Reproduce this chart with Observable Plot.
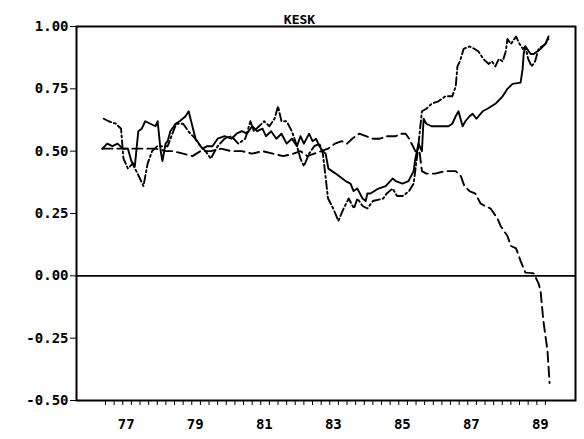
<!DOCTYPE html>
<html>
<head>
<meta charset="utf-8">
<script src="https://cdn.jsdelivr.net/npm/d3@7"></script>
<script src="https://cdn.jsdelivr.net/npm/@observablehq/plot@0.6"></script>
<style>
  html, body { margin: 0; padding: 0; background: #fff; }
  svg text { font-family: "DejaVu Sans Mono", monospace; font-weight: bold; }
</style>
</head>
<body>
<div id="chart"></div>
<script>
const title = "KESK";
const yTicks = [-0.5, -0.25, 0, 0.25, 0.5, 0.75, 1.0];
const xLabelYears = [1977, 1979, 1981, 1983, 1985, 1987, 1989];
const quarterTicks = [1976.45,1976.7,1976.95,1977.2,1977.45,1977.7,1977.95,1978.2,1978.45,1978.7,1978.95,1979.2,1979.45,1979.7,1979.95,1980.2,1980.45,1980.7,1980.95,1981.2,1981.45,1981.7,1981.95,1982.2,1982.45,1982.7,1982.95,1983.2,1983.45,1983.7,1983.95,1984.2,1984.45,1984.7,1984.95,1985.2,1985.45,1985.7,1985.95,1986.2,1986.45,1986.7,1986.95,1987.2,1987.45,1987.7,1987.95,1988.2,1988.45,1988.7,1988.95,1989.2];

// Solid series
const solidT = [1976.36,1976.5,1976.65,1976.8,1976.95,1977.1,1977.2,1977.3,1977.4,1977.5,1977.6,1977.75,1977.9,1977.96,1978.05,1978.1,1978.19,1978.25,1978.33,1978.48,1978.6,1978.77,1978.86,1978.95,1979.06,1979.26,1979.4,1979.55,1979.7,1979.9,1980.1,1980.25,1980.4,1980.55,1980.7,1980.85,1981.0,1981.1,1981.25,1981.4,1981.55,1981.7,1981.85,1982.0,1982.1,1982.2,1982.35,1982.45,1982.55,1982.65,1982.75,1982.83,1982.91,1983.12,1983.41,1983.55,1983.64,1983.75,1983.9,1983.99,1984.04,1984.13,1984.36,1984.57,1984.77,1984.86,1985.06,1985.23,1985.38,1985.43,1985.52,1985.62,1985.67,1985.75,1985.9,1986.1,1986.39,1986.5,1986.6,1986.68,1986.8,1986.88,1987.0,1987.09,1987.2,1987.38,1987.52,1987.75,1987.96,1988.1,1988.25,1988.48,1988.54,1988.57,1988.62,1988.77,1988.86,1989.06,1989.2,1989.29];
const solidV = [0.51,0.53,0.52,0.53,0.51,0.51,0.46,0.44,0.58,0.59,0.62,0.61,0.60,0.62,0.50,0.46,0.53,0.54,0.58,0.61,0.62,0.64,0.66,0.61,0.55,0.51,0.52,0.52,0.55,0.56,0.55,0.57,0.58,0.57,0.60,0.58,0.59,0.56,0.58,0.55,0.57,0.53,0.55,0.52,0.56,0.53,0.57,0.54,0.55,0.52,0.50,0.49,0.43,0.41,0.38,0.37,0.34,0.35,0.31,0.30,0.33,0.33,0.35,0.36,0.39,0.38,0.37,0.38,0.42,0.47,0.53,0.50,0.63,0.61,0.60,0.60,0.60,0.61,0.64,0.66,0.60,0.62,0.64,0.65,0.63,0.66,0.67,0.69,0.72,0.75,0.77,0.775,0.83,0.89,0.92,0.89,0.89,0.91,0.93,0.96];

// Long-dash series
const dashT = [1976.36,1976.7,1977.0,1977.3,1977.6,1977.9,1978.2,1978.4,1978.7,1978.97,1979.2,1979.5,1979.8,1980.1,1980.4,1980.7,1981.0,1981.3,1981.6,1981.9,1982.1,1982.3,1982.5,1982.7,1982.9,1983.1,1983.3,1983.45,1983.6,1983.8,1984.0,1984.2,1984.4,1984.6,1984.86,1985.0,1985.15,1985.25,1985.43,1985.55,1985.62,1985.75,1986.0,1986.3,1986.6,1986.75,1986.85,1987.0,1987.17,1987.32,1987.45,1987.61,1987.81,1987.9,1988.1,1988.2,1988.35,1988.48,1988.62,1988.75,1988.86,1989.0,1989.06,1989.14,1989.26,1989.32];
const dashV = [0.51,0.51,0.51,0.51,0.51,0.51,0.50,0.50,0.49,0.48,0.50,0.50,0.51,0.50,0.50,0.49,0.50,0.49,0.48,0.49,0.50,0.48,0.49,0.50,0.51,0.53,0.54,0.53,0.55,0.57,0.56,0.55,0.55,0.56,0.56,0.57,0.57,0.55,0.50,0.50,0.42,0.41,0.41,0.42,0.42,0.40,0.36,0.34,0.33,0.29,0.28,0.27,0.23,0.20,0.16,0.12,0.11,0.06,0.013,0.012,0.01,-0.03,-0.06,-0.18,-0.30,-0.43];

// Dash-dot series
const dotT = [1976.4,1976.54,1976.75,1976.9,1976.97,1977.1,1977.23,1977.38,1977.55,1977.67,1977.8,1977.95,1978.1,1978.25,1978.5,1978.7,1978.85,1979.05,1979.2,1979.35,1979.5,1979.7,1979.9,1980.1,1980.3,1980.5,1980.65,1980.75,1980.9,1981.05,1981.2,1981.35,1981.45,1981.55,1981.7,1981.85,1982.0,1982.1,1982.2,1982.35,1982.5,1982.65,1982.75,1982.9,1983.05,1983.2,1983.35,1983.5,1983.65,1983.75,1983.9,1984.04,1984.2,1984.5,1984.6,1984.77,1984.9,1985.06,1985.25,1985.38,1985.5,1985.62,1985.75,1985.9,1986.1,1986.3,1986.5,1986.6,1986.65,1986.72,1986.83,1987.0,1987.15,1987.26,1987.4,1987.55,1987.65,1987.75,1987.85,1987.96,1988.05,1988.1,1988.2,1988.35,1988.45,1988.55,1988.62,1988.7,1988.8,1988.9,1989.0,1989.1,1989.2,1989.29];
const dotV = [0.63,0.62,0.61,0.59,0.47,0.43,0.45,0.41,0.36,0.45,0.50,0.52,0.52,0.52,0.61,0.61,0.58,0.55,0.52,0.50,0.47,0.52,0.55,0.56,0.53,0.55,0.62,0.58,0.60,0.62,0.60,0.63,0.68,0.62,0.62,0.58,0.52,0.47,0.44,0.49,0.52,0.53,0.49,0.31,0.27,0.22,0.27,0.31,0.27,0.31,0.28,0.27,0.30,0.31,0.33,0.35,0.32,0.32,0.34,0.37,0.50,0.66,0.67,0.69,0.70,0.72,0.72,0.76,0.84,0.86,0.91,0.92,0.91,0.90,0.87,0.85,0.86,0.84,0.87,0.86,0.90,0.95,0.93,0.96,0.93,0.91,0.92,0.87,0.84,0.86,0.91,0.92,0.93,0.95];

const solid = solidT.map((t, i) => ({t, v: solidV[i]}));
const dashed = dashT.map((t, i) => ({t, v: dashV[i]}));
const dotted = dotT.map((t, i) => ({t, v: dotV[i]}));

const chart = Plot.plot({
  width: 584,
  height: 439,
  marginLeft: 76,
  marginRight: 9,
  marginTop: 26,
  marginBottom: 39,
  x: {domain: [1975.609, 1990.072]},
  y: {domain: [-0.5, 1.0]},
  style: {fontFamily: "DejaVu Sans Mono", fontSize: "14px", color: "#000", background: "#fff"},
  marks: [
    Plot.ruleY([0], {stroke: "#000", strokeWidth: 1.6}),
    Plot.line(solid, {x: "t", y: "v", stroke: "#000", strokeWidth: 1.9}),
    Plot.line(dashed, {x: "t", y: "v", stroke: "#000", strokeWidth: 1.9, strokeDasharray: "10,5"}),
    Plot.line(dotted, {x: "t", y: "v", stroke: "#000", strokeWidth: 1.9, strokeDasharray: "8,3,2,3"}),
    Plot.frame({stroke: "#000", strokeWidth: 2}),
    Plot.axisY({ticks: yTicks, tickSize: 6, tickPadding: 2, tickFormat: d => d.toFixed(2), label: null, fontSize: 14, fontWeight: "bold", style: {letterSpacing: "3.6px"}}),
    Plot.axisX({ticks: quarterTicks, tickSize: 5, tickFormat: () => "", label: null}),
    Plot.axisX({ticks: xLabelYears, tickSize: 0, tickPadding: 19, dx: 1.8, tickFormat: d => String(d).slice(2), label: null, fontSize: 14, fontWeight: "bold", style: {letterSpacing: "3.6px"}}),
    Plot.text([title], {frameAnchor: "top-left", dx: 223, dy: -12, textAnchor: "middle", text: d => d, fontSize: 13, fontWeight: "bold", style: {letterSpacing: "2.4px"}})
  ]
});
document.getElementById("chart").appendChild(chart);
</script>
</body>
</html>
